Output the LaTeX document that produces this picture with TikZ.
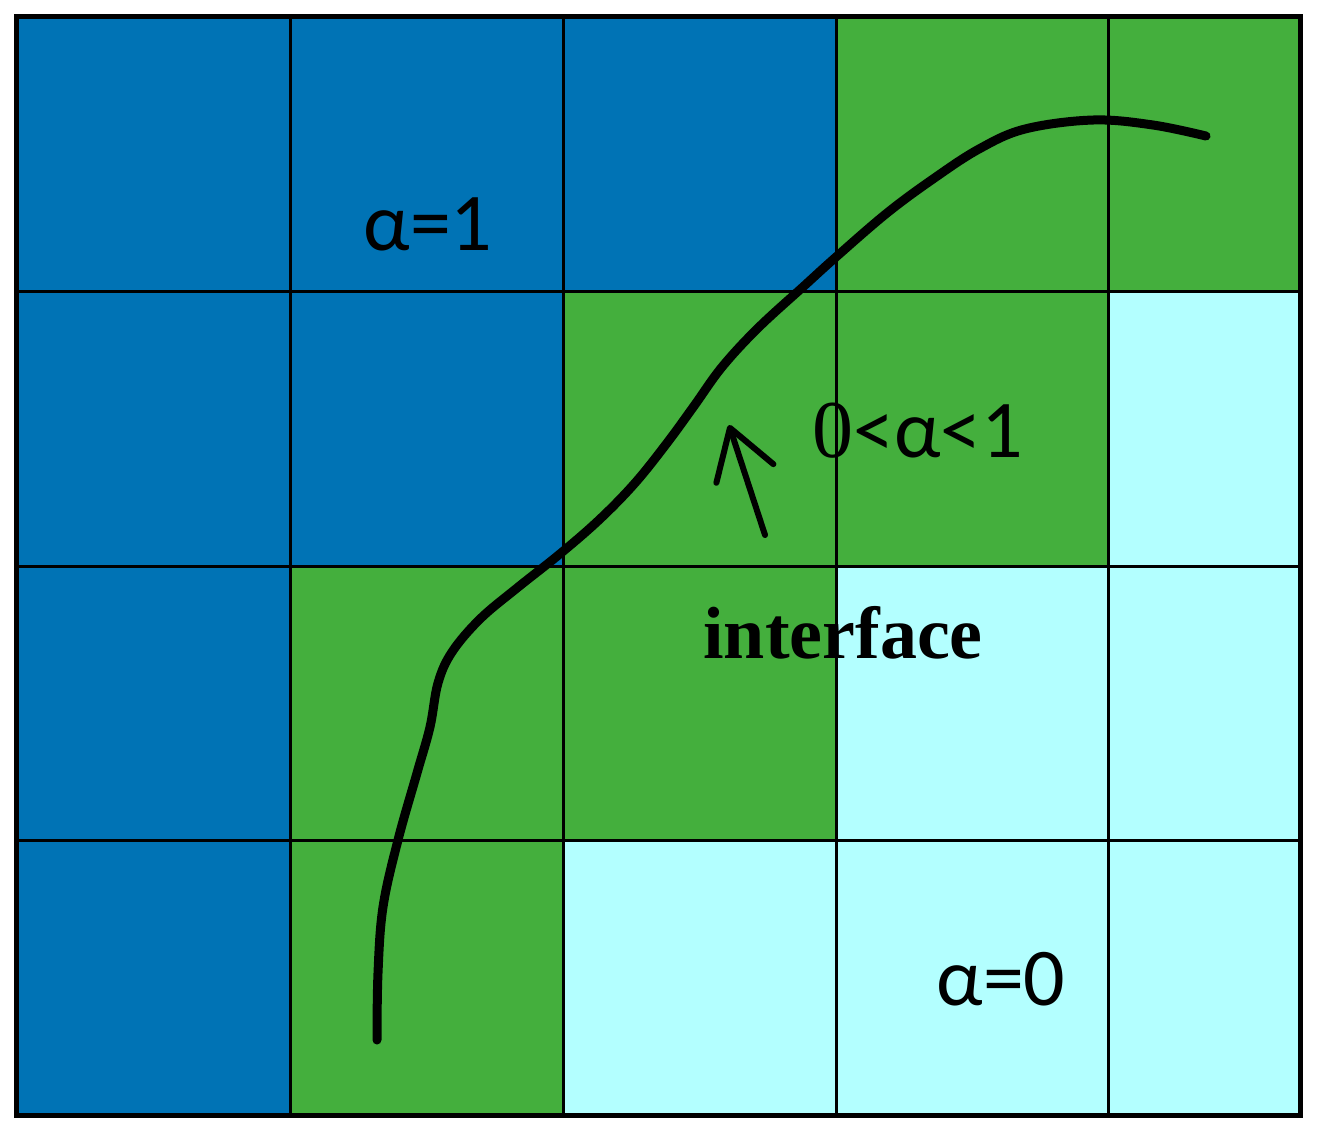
\documentclass[tikz,border=0pt]{standalone}
\usepackage{fontspec}
\setmainfont{Liberation Serif}
\newfontfamily\calfont{Carlito}
\newfontfamily\serfont{Liberation Serif}
\usetikzlibrary{arrows.meta}
\definecolor{phaseone}{RGB}{0,115,181}
\definecolor{mixcell}{RGB}{68,175,61}
\definecolor{phasezero}{RGB}{179,255,255}
\tikzset{
	gridline/.style={black, line width=1.5pt},
	alphalabel/.style={font=\calfont\fontsize{41}{48}\selectfont, inner sep=0pt, anchor=base},
	surface/.style={black, line width=4.5pt, line cap=round, line join=round},
	pointer/.style={black, line width=3pt, line cap=round, -{Straight Barb[length=24pt, width=30pt, round]}}
}
\begin{document}
\begin{tikzpicture}[x=0.5pt,y=-0.5pt]
				\useasboundingbox (0, 0) rectangle (1321, 1137);
				% cells
				\fill [phasezero] (16, 16) rectangle (1300, 1115);
				\fill [phaseone] (16, 16) rectangle (836, 291);
				\fill [phaseone] (16, 291) rectangle (563, 566);
				\fill [phaseone] (16, 566) rectangle (290, 1115);
				\fill [mixcell] (836, 16) rectangle (1300, 291);
				\fill [mixcell] (563, 291) rectangle (1108, 566);
				\fill [mixcell] (290, 566) rectangle (836, 840);
				\fill [mixcell] (290, 840) rectangle (563, 1115);
				% grid
				\foreach \gx in {290, 563, 836, 1108}
					\draw [gridline] (\gx, 16) -- (\gx, 1115);
				\foreach \gy in {291, 566, 840}
					\draw [gridline] (16, \gy) -- (1300, \gy);
				\draw [black, line width=2.5pt] (16, 16) rectangle (1300, 1115);
				
				% interface line
				\draw [surface] plot [smooth, tension=0.6] coordinates {(377, 1040) (378, 973) (383, 907) (398, 840) (417, 773) (430, 727) (438, 683) (452, 652) (480, 619) (517, 588) (561, 553) (600, 519) (635, 483) (667, 443) (694, 406) (722, 367) (758, 328) (804, 286) (836, 257) (887, 213) (933, 179) (979, 149) (1025, 129) (1093, 120) (1153, 125) (1206, 136)};
				
				\node [alphalabel] (one) at (428, 250) {α=1};
				\node [alphalabel] (mid) at (918, 457) {{\serfont 0}<α<1};
				\node [font=\bfseries\fontsize{37}{44}\selectfont, inner sep=0pt, anchor=base] (iface) at (843, 658) {interface};
				\node [alphalabel] (zero) at (1001, 1005) {α=0};
				
				\coordinate (tail) at (765, 535);
				\coordinate (tip) at (729, 425);
				\draw [pointer] (tail) -- (tip);
\end{tikzpicture}
\end{document}
